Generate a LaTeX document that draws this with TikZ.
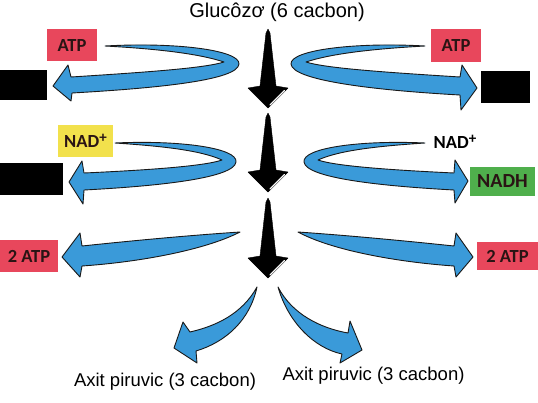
\documentclass[tikz,border=0pt]{standalone}
\usepackage{fontspec}
\setmainfont{Liberation Sans}
\newfontfamily\boxfont{Carlito}
\definecolor{arrowblue}{HTML}{3A9AD9}
\definecolor{atpred}{HTML}{E8475C}
\definecolor{nadyellow}{HTML}{F2E14C}
\definecolor{nadhgreen}{HTML}{4FAF4C}
\definecolor{boxtext}{HTML}{2A1414}
\tikzset{
  bluearrow/.style={fill=arrowblue, draw=black!90, line width=0.9pt, line join=round},
  blackarrow/.style={fill=black, draw=black, line join=round},
  highlight/.style={draw=white, line width=1.1pt, line cap=round},
  lbl/.style={inner sep=0pt, font=\boxfont\bfseries\fontsize{18.5}{18.5}\selectfont, text=boxtext},
  redbox/.style={lbl, fill=atpred, minimum width=50pt, minimum height=32pt},
  blackbox/.style={fill=black, inner sep=0pt},
  plain/.style={inner sep=0pt, font=\fontsize{18.5}{18.5}\selectfont},
}
\newcommand{\nadplus}{NAD\raisebox{0.3em}{\fontsize{15}{15}\selectfont +}}
\begin{document}
\begin{tikzpicture}[x=1pt, y=-1pt]
\useasboundingbox (0,0) rectangle (538,402);

% title
\node[plain, font=\fontsize{20}{20}\selectfont] (title) at (277,12) {Glucôzơ (6 cacbon)};

% central black arrows
\foreach \n/\ya/\yb/\yc in {1/29/88/108, 2/113/172/192, 3/198/258/278}{
  \draw[blackarrow] (268,\ya) -- (270,\ya+4) -- (276,\yb-2) -- (288,\yb) -- (268,\yc) -- (248,\yb) -- (260,\yb-2) -- (266,\ya+4) -- cycle;
  \draw[highlight] (284.5,\yb+2.5) -- (270,\yc-3);
}

% row 1 left
\draw[bluearrow] (105,46) .. controls (175,42) and (240,50) .. (239,64)
  .. controls (238,80) and (160,88) .. (72,93)
  -- (71,101) -- (53,86) -- (68,65) -- (71,77)
  .. controls (150,72) and (205,68) .. (224,62)
  .. controls (200,54) and (160,49) .. (105,46) -- cycle;
% row 1 right (mirror)
\begin{scope}[shift={(530,0)}, xscale=-1]
\draw[bluearrow] (105,46) .. controls (175,42) and (240,50) .. (239,64)
  .. controls (238,80) and (160,90) .. (70,95)
  -- (69,110) -- (53,88) -- (68,65) -- (70,77)
  .. controls (150,72) and (205,68) .. (224,62)
  .. controls (200,54) and (160,49) .. (105,46) -- cycle;
\end{scope}

% row 2 left
\draw[bluearrow] (115,143) .. controls (180,140) and (238,148) .. (236,162)
  .. controls (234,178) and (160,186) .. (84,190)
  -- (83,204) -- (69,182) -- (82,161) -- (84,173)
  .. controls (150,170) and (205,166) .. (222,160)
  .. controls (200,150) and (160,146) .. (115,143) -- cycle;
% row 2 right (mirror)
\begin{scope}[shift={(540,0)}, xscale=-1]
\draw[bluearrow] (115,143) .. controls (180,140) and (238,148) .. (236,162)
  .. controls (234,178) and (160,186) .. (86,190)
  -- (85,203) -- (72,181) -- (85,160) -- (86,173)
  .. controls (150,170) and (205,166) .. (222,160)
  .. controls (200,150) and (160,146) .. (115,143) -- cycle;
\end{scope}

% row 3 left
\draw[bluearrow] (240,232) .. controls (180,236) and (120,242) .. (82,246)
  -- (80,233) -- (62,257) -- (80,277) -- (82,266)
  .. controls (140,262) and (205,250) .. (240,232) -- cycle;
% row 3 right (mirror)
\begin{scope}[shift={(536,0)}, xscale=-1]
\draw[bluearrow] (238,232) .. controls (180,236) and (120,242) .. (82,246)
  -- (80,233) -- (63,257) -- (80,277) -- (82,266)
  .. controls (140,262) and (205,250) .. (238,232) -- cycle;
\end{scope}

% bottom arrows
\draw[bluearrow] (257,287) .. controls (242,314) and (216,326) .. (190,332)
  -- (183,322) -- (174,348) -- (197,363) -- (196,351)
  .. controls (226,342) and (250,320) .. (257,287) -- cycle;
\draw[bluearrow] (278,287) .. controls (292,314) and (320,328) .. (348,333)
  -- (350,321) -- (362,350) -- (340,363) -- (342,354)
  .. controls (314,348) and (288,322) .. (278,287) -- cycle;

% boxes
\node[redbox] (atpL) at (72,45) {ATP};
\node[redbox, minimum height=33pt] (atpR) at (456,45.5) {ATP};
\node[blackbox, minimum width=47pt, minimum height=30pt] (blkL1) at (23.5,85) {};
\node[blackbox, minimum width=49pt, minimum height=32pt] (blkR1) at (505.5,87) {};
\node[lbl, fill=nadyellow, minimum width=55pt, minimum height=32pt] (nadL) at (85.5,141) {\nadplus};
\node[blackbox, minimum width=63pt, minimum height=32pt] (blkL2) at (31.5,179) {};
\node[lbl, text=black] (nadR) at (455,142) {\nadplus};
\node[lbl, fill=nadhgreen, minimum width=65pt, minimum height=29pt, font=\boxfont\bfseries\fontsize{20}{20}\selectfont] (nadhR) at (502.5,181.5) {NADH};
\node[redbox, minimum width=58pt] (atp2L) at (29,256) {2 ATP};
\node[redbox, minimum width=61pt, minimum height=28pt] (atp2R) at (507.5,256) {2 ATP};

% bottom labels
\node[plain] (pyrL) at (165,382) {Axit piruvic (3 cacbon)};
\node[plain] (pyrR) at (373.5,376) {Axit piruvic (3 cacbon)};
\end{tikzpicture}
\end{document}
